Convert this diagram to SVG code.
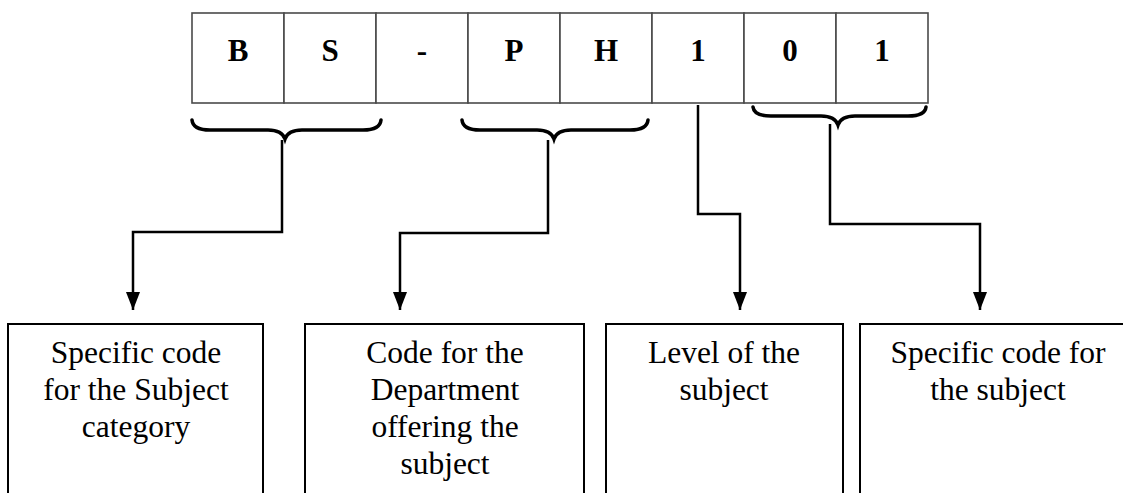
<svg xmlns="http://www.w3.org/2000/svg" width="1123" height="493" viewBox="0 0 1123 493">
<defs>
<style>
.cell{fill:#fff;stroke:#4a4a4a;stroke-width:1.6}
.brace{fill:none;stroke:#000;stroke-width:3.5;stroke-linecap:round}
.conn{fill:none;stroke:#000;stroke-width:2.5}
.box{fill:#fff;stroke:#000;stroke-width:2}
</style>
<marker id="ah" markerUnits="userSpaceOnUse" markerWidth="18" markerHeight="16" viewBox="0 0 18 16" refX="18" refY="8" orient="auto">
<path d="M0,1 L18,8 L0,15 Z" fill="#000"/>
</marker>
</defs>
<rect width="1123" height="493" fill="#fff"/>

<g id="code">
<rect class="cell" x="192" y="13" width="92" height="90"/>
<rect class="cell" x="284" y="13" width="92" height="90"/>
<rect class="cell" x="376" y="13" width="92" height="90"/>
<rect class="cell" x="468" y="13" width="92" height="90"/>
<rect class="cell" x="560" y="13" width="92" height="90"/>
<rect class="cell" x="652" y="13" width="92" height="90"/>
<rect class="cell" x="744" y="13" width="92" height="90"/>
<rect class="cell" x="836" y="13" width="92" height="90"/>
<g font-family="'Liberation Serif', 'DejaVu Serif', serif" font-weight="bold" font-size="31" text-anchor="middle" fill="#000">
<text x="238" y="61">B</text>
<text x="330" y="61">S</text>
<text x="422" y="61">-</text>
<text x="514" y="61">P</text>
<text x="606" y="61">H</text>
<text x="698" y="61">1</text>
<text x="790" y="61">0</text>
<text x="882" y="61">1</text>
</g>
</g>

<g id="braces">
<path class="brace" d="M192,120 Q193,130 210,130 L268,130 Q282,130 285,139 Q288,130 302,130 L363,130 Q380,130 381,120"/>
<path class="brace" d="M462,120 Q463,130 480,130 L537,130 Q551,130 554,139 Q557,130 571,130 L630,130 Q647,130 648,120"/>
<path class="brace" d="M753,107 Q754,116 771,116 L821,116 Q835,116 838,125 Q841,116 855,116 L908,116 Q925,116 926,107"/>
</g>

<g id="connectors">
<path class="conn" d="M282,140 V232 H133 V310" marker-end="url(#ah)"/>
<path class="conn" d="M548,140 V233 H400 V310" marker-end="url(#ah)"/>
<path class="conn" d="M698,105 V214 H740 V310" marker-end="url(#ah)"/>
<path class="conn" d="M830,124 V224 H980 V310" marker-end="url(#ah)"/>
</g>

<g font-family="'Liberation Serif', 'DejaVu Serif', serif" font-size="31.5" text-anchor="middle" fill="#000">
<g id="box-category">
<rect class="box" x="8" y="324" width="255" height="200"/>
<text x="136" y="363">Specific code</text>
<text x="136" y="400">for the Subject</text>
<text x="136" y="437">category</text>
</g>
<g id="box-department">
<rect class="box" x="305" y="324" width="279" height="200"/>
<text x="445" y="363">Code for the</text>
<text x="445" y="400">Department</text>
<text x="445" y="437">offering the</text>
<text x="445" y="474">subject</text>
</g>
<g id="box-level">
<rect class="box" x="606" y="324" width="237" height="200"/>
<text x="724" y="363">Level of the</text>
<text x="724" y="400">subject</text>
</g>
<g id="box-specific">
<rect class="box" x="860" y="324" width="280" height="200"/>
<text x="998" y="363">Specific code for</text>
<text x="998" y="400">the subject</text>
</g>
</g>
</svg>
